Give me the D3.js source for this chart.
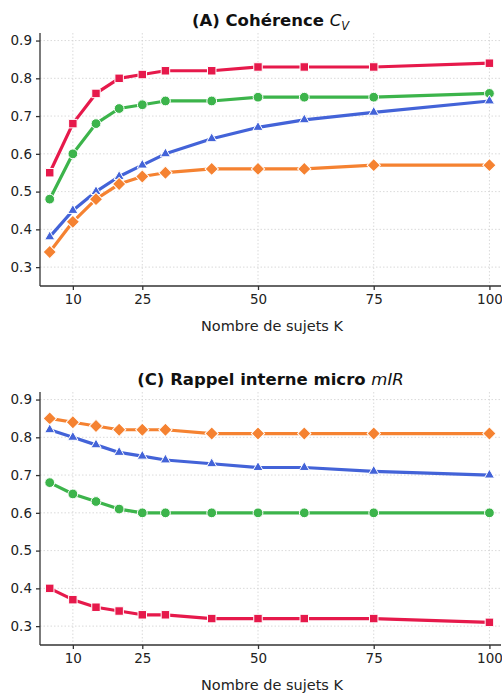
<!DOCTYPE html>
<meta charset="utf-8">
<head>
  <script src="https://d3js.org/d3.v7.min.js"></script>
  <style>
    body { margin: 0; background: #fff; }
    svg text { font-family: "DejaVu Sans", sans-serif; fill: #222; }
    .grid line { stroke: #d0d0d0; stroke-dasharray: 1.5,2; stroke-width: 0.8; }
    .axis path, .axis line { stroke: #333; stroke-width: 1.3; }
    .axis text { font-size: 13.5px; fill: #222; }
  </style>
</head>
<body>
<script>
// nombre de sujets K
var K = [5, 10, 15, 20, 25, 30, 40, 50, 60, 75, 100];
var xTicks = [10, 25, 50, 75, 100];
var yTicks = [0.3, 0.4, 0.5, 0.6, 0.7, 0.8, 0.9];

// (A) coherence C_V
var cvRed    = [0.55, 0.68, 0.76, 0.80, 0.81, 0.82, 0.82, 0.83, 0.83, 0.83, 0.84];
var cvGreen  = [0.48, 0.60, 0.68, 0.72, 0.73, 0.74, 0.74, 0.75, 0.75, 0.75, 0.76];
var cvBlue   = [0.38, 0.45, 0.50, 0.54, 0.57, 0.60, 0.64, 0.67, 0.69, 0.71, 0.74];
var cvOrange = [0.34, 0.42, 0.48, 0.52, 0.54, 0.55, 0.56, 0.56, 0.56, 0.57, 0.57];

// (C) rappel interne micro mIR
var mirOrange = [0.85, 0.84, 0.83, 0.82, 0.82, 0.82, 0.81, 0.81, 0.81, 0.81, 0.81];
var mirBlue   = [0.82, 0.80, 0.78, 0.76, 0.75, 0.74, 0.73, 0.72, 0.72, 0.71, 0.70];
var mirGreen  = [0.68, 0.65, 0.63, 0.61, 0.60, 0.60, 0.60, 0.60, 0.60, 0.60, 0.60];
var mirRed    = [0.40, 0.37, 0.35, 0.34, 0.33, 0.33, 0.32, 0.32, 0.32, 0.32, 0.31];

var colors = { red: "#e6194b", green: "#3cb44b", blue: "#4363d8", orange: "#f58231" };
var symbols = { red: d3.symbolSquare, green: d3.symbolCircle, blue: d3.symbolTriangle, orange: d3.symbolSquare };
var sizes = { red: 72, green: 75, blue: 45, orange: 88 };
var rot = { red: 0, green: 0, blue: 0, orange: 45 };

var panels = [
  { top: 33, bottom: 286, title: "(A) Cohérence ", math: "C", sub: "V",
    series: [["red", cvRed], ["green", cvGreen], ["blue", cvBlue], ["orange", cvOrange]] },
  { top: 392, bottom: 645, title: "(C) Rappel interne micro ", math: "mIR", sub: null,
    series: [["orange", mirOrange], ["blue", mirBlue], ["green", mirGreen], ["red", mirRed]] }
];

var svg = d3.select("body").append("svg").attr("width", 502).attr("height", 693);
var left = 40, right = 501;

var x = d3.scaleLinear().domain([2.9, 102.5]).range([left, right]);

panels.forEach(function(p) {
  var y = d3.scaleLinear().domain([0.25, 0.92]).range([p.bottom, p.top]);
  var g = svg.append("g");

  // grid
  var grid = g.append("g").attr("class", "grid");
  grid.selectAll(".gy").data(yTicks).enter().append("line")
    .attr("x1", left).attr("x2", right)
    .attr("y1", function(d) { return y(d); }).attr("y2", function(d) { return y(d); });
  grid.selectAll(".gx").data(xTicks).enter().append("line")
    .attr("x1", function(d) { return x(d); }).attr("x2", function(d) { return x(d); })
    .attr("y1", p.top).attr("y2", p.bottom);

  // lines + markers
  var line = d3.line().x(function(d, i) { return x(K[i]); }).y(function(d) { return y(d); });
  p.series.forEach(function(s) {
    var c = colors[s[0]];
    g.append("path").datum(s[1])
      .attr("d", line).attr("fill", "none")
      .attr("stroke", c).attr("stroke-width", 3.2).attr("stroke-linejoin", "round");
    g.selectAll(null).data(s[1]).enter().append("path")
      .attr("d", d3.symbol().type(symbols[s[0]]).size(sizes[s[0]]))
      .attr("transform", function(d, i) { return "translate(" + x(K[i]) + "," + y(d) + ") rotate(" + rot[s[0]] + ")"; })
      .attr("fill", c).attr("stroke", "#fff").attr("stroke-width", 1);
  });

  // axes
  g.append("g").attr("class", "axis")
    .attr("transform", "translate(0," + p.bottom + ")")
    .call(d3.axisBottom(x).tickValues(xTicks).tickSize(4).tickPadding(4).tickSizeOuter(0))
    .call(function(a) { a.select(".domain").attr("d", "M" + left + ",0H" + right); });
  g.append("g").attr("class", "axis")
    .attr("transform", "translate(" + left + ",0)")
    .call(d3.axisLeft(y).tickValues(yTicks).tickFormat(d3.format(".1f")).tickSize(4).tickPadding(4).tickSizeOuter(0))
    .call(function(a) { a.select(".domain").attr("d", "M0," + p.top + "V" + p.bottom); });

  // x label
  g.append("text").attr("x", 272).attr("y", p.bottom + 45)
    .attr("text-anchor", "middle").style("font-size", "14.5px")
    .text("Nombre de sujets K");

  // title
  var t = g.append("text").attr("x", (left + right) / 2).attr("y", p.top - 7)
    .attr("text-anchor", "middle").style("font-size", "16.5px").style("font-weight", "bold").style("fill", "#111");
  t.append("tspan").text(p.title);
  t.append("tspan").style("font-style", "italic").style("font-weight", "normal").text(p.math);
  if (p.sub) {
    t.append("tspan").style("font-style", "italic").style("font-weight", "normal")
      .style("font-size", "11.5px").attr("dy", 4).text(p.sub);
  }
});
</script>
</body>
